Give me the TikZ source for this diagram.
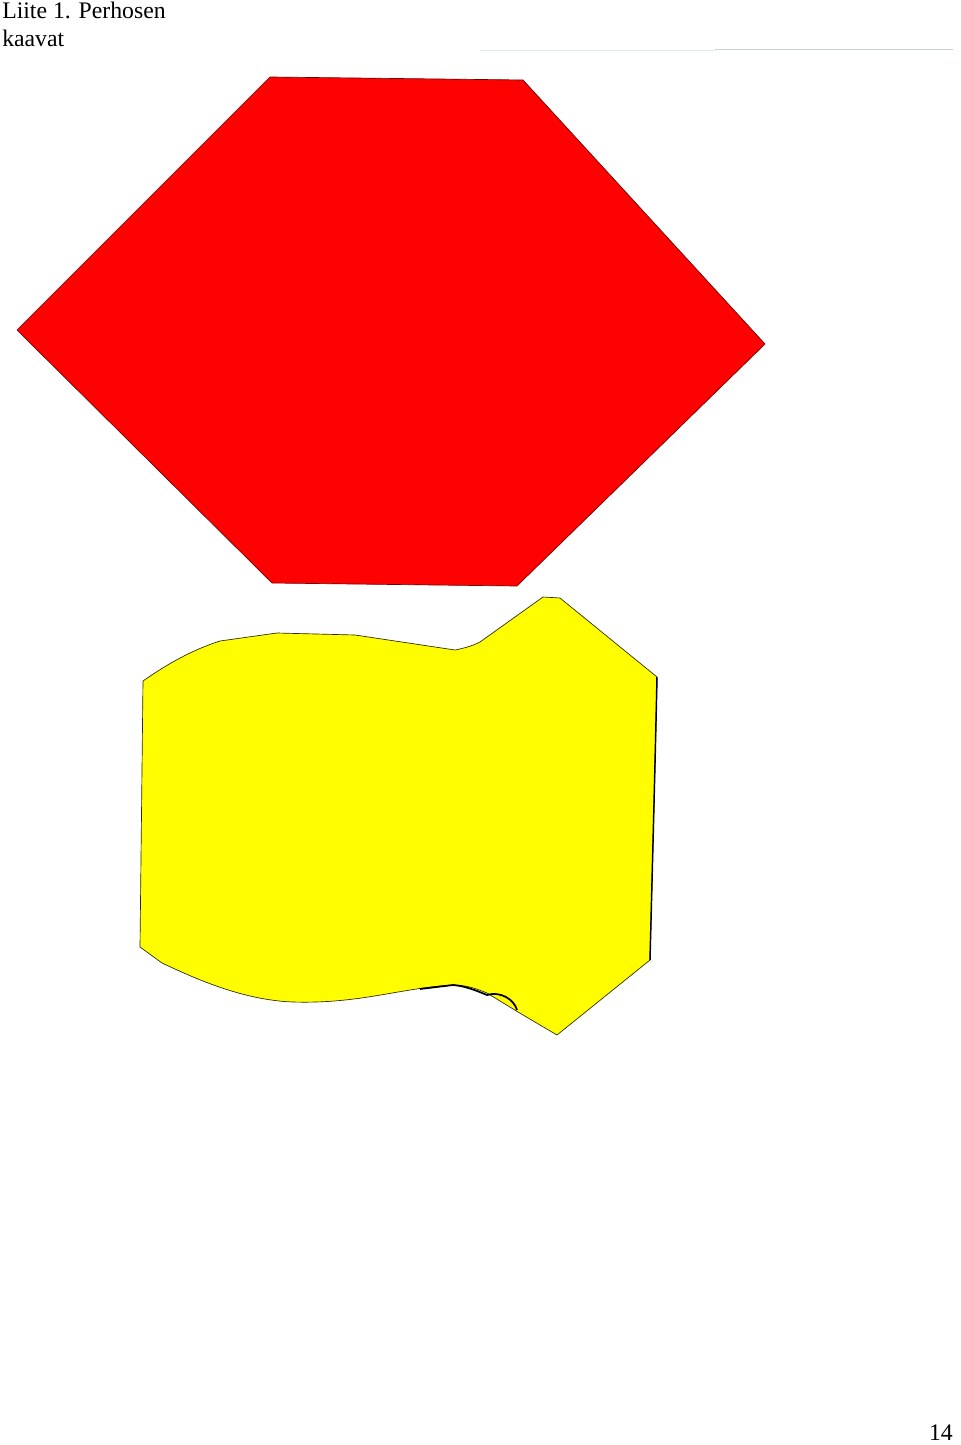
\documentclass[tikz,border=0pt]{standalone}
\usepackage{fontspec}
\setmainfont{Liberation Serif}

\begin{document}
\begin{tikzpicture}[x=0.75pt,y=0.75pt,yscale=-1,
    cutout/.style={line width=0.5, line join=round},
    pagetext/.style={inner sep=0pt, align=left, font=\fontsize{17.8}{21}\selectfont}]
        \useasboundingbox (0,0) rectangle (960,1445);

        %Straight Lines (faint rule at the top)
        \draw [color={rgb, 255:red, 225; green, 232; blue, 236 }  ,line width=0.6 ]   (480,50) -- (715,50) ;
        \draw [color={rgb, 255:red, 196; green, 208; blue, 214 }  ,line width=0.75 ]   (715,50) -- (953,50) ;

        %Shape: Polygon (red hexagon)
        \draw [cutout, color={rgb, 255:red, 110; green, 0; blue, 0 }  ,fill={rgb, 255:red, 254; green, 2; blue, 2 }  ]   (270,77) -- (523,80) -- (765,344) -- (517,586) -- (272,583) -- (17,330) -- cycle ;

        %Shape: Free drawing (yellow piece)
        \draw [cutout, color={rgb, 255:red, 40; green, 40; blue, 0 }  ,fill={rgb, 255:red, 255; green, 253; blue, 0 }  ]   (143,681) .. controls (170,662) and (195,649) .. (220,641) -- (277,633) -- (355,635) -- (455,650) .. controls (465,648) and (472,646) .. (480,642) -- (543,597) -- (560,598) -- (657,677) .. controls (655,770) and (652,880) .. (650,960) -- (557,1035) -- (518,1012) -- (487,993) .. controls (475,988) and (465,985) .. (453,985) .. controls (400,988) and (360,1004) .. (293,1002) .. controls (240,1000) and (190,976) .. (162,963) -- (140,947) -- cycle ;
        %Curve Lines (darker edge on the right)
        \draw [line width=1.1]   (657,677) .. controls (655,770) and (652,880) .. (650,960) ;
        %Curve Lines (curled paper edge)
        \draw [line width=1.3]   (420,989) -- (453,985) .. controls (465,986) and (475,990) .. (487,995) .. controls (500,991) and (514,999) .. (517,1010) ;

        % Text Node
        \node (title) [pagetext, anchor=north west] at (2,2) {Liite 1. Perhosen\\kaavat};
        % Text Node
        \node (pagenum) [pagetext, anchor=base east] at (953,1440) {14};
\end{tikzpicture}
\end{document}
